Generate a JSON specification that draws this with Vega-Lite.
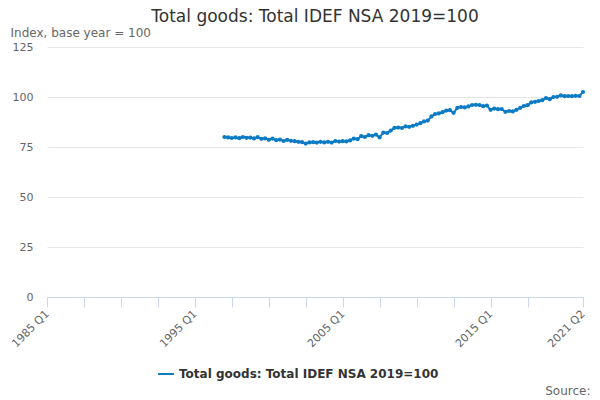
{
  "$schema": "https://vega.github.io/schema/vega-lite/v6.json",
  "width": 536,
  "height": 250,
  "autosize": "none",
  "padding": {"left": 47, "top": 47, "right": 17, "bottom": 103},
  "background": "white",
  "title": {
    "text": "Total goods: Total IDEF NSA 2019=100",
    "font": "DejaVu Sans",
    "fontSize": 17,
    "fontWeight": "normal",
    "color": "#333333",
    "anchor": "middle",
    "offset": 0
  },
  "config": {
    "view": {"stroke": null},
    "font": "DejaVu Sans"
  },
  "data": {
    "values": [
      {"date": "1997-01-01", "value": 80.0}, {"date": "1997-04-01", "value": 79.8}, {"date": "1997-07-01", "value": 79.5}, {"date": "1997-10-01", "value": 79.8},
      {"date": "1998-01-01", "value": 79.4}, {"date": "1998-04-01", "value": 80.0}, {"date": "1998-07-01", "value": 79.6}, {"date": "1998-10-01", "value": 79.7},
      {"date": "1999-01-01", "value": 79.3}, {"date": "1999-04-01", "value": 79.9}, {"date": "1999-07-01", "value": 79.1}, {"date": "1999-10-01", "value": 79.3},
      {"date": "2000-01-01", "value": 78.6}, {"date": "2000-04-01", "value": 79.2}, {"date": "2000-07-01", "value": 78.4}, {"date": "2000-10-01", "value": 78.7},
      {"date": "2001-01-01", "value": 78.0}, {"date": "2001-04-01", "value": 78.6}, {"date": "2001-07-01", "value": 78.1}, {"date": "2001-10-01", "value": 77.9},
      {"date": "2002-01-01", "value": 77.6}, {"date": "2002-04-01", "value": 77.4}, {"date": "2002-07-01", "value": 76.7}, {"date": "2002-10-01", "value": 77.3},
      {"date": "2003-01-01", "value": 77.4}, {"date": "2003-04-01", "value": 77.2}, {"date": "2003-07-01", "value": 77.6}, {"date": "2003-10-01", "value": 77.3},
      {"date": "2004-01-01", "value": 77.6}, {"date": "2004-04-01", "value": 77.2}, {"date": "2004-07-01", "value": 78.0}, {"date": "2004-10-01", "value": 77.7},
      {"date": "2005-01-01", "value": 77.9}, {"date": "2005-04-01", "value": 77.8}, {"date": "2005-07-01", "value": 78.3}, {"date": "2005-10-01", "value": 79.2},
      {"date": "2006-01-01", "value": 78.9}, {"date": "2006-04-01", "value": 80.4}, {"date": "2006-07-01", "value": 80.0}, {"date": "2006-10-01", "value": 80.9},
      {"date": "2007-01-01", "value": 80.6}, {"date": "2007-04-01", "value": 81.2}, {"date": "2007-07-01", "value": 79.8}, {"date": "2007-10-01", "value": 82.2},
      {"date": "2008-01-01", "value": 82.0}, {"date": "2008-04-01", "value": 83.2}, {"date": "2008-07-01", "value": 84.6}, {"date": "2008-10-01", "value": 84.7},
      {"date": "2009-01-01", "value": 84.5}, {"date": "2009-04-01", "value": 85.3}, {"date": "2009-07-01", "value": 85.1}, {"date": "2009-10-01", "value": 85.6},
      {"date": "2010-01-01", "value": 86.2}, {"date": "2010-04-01", "value": 86.9}, {"date": "2010-07-01", "value": 87.8}, {"date": "2010-10-01", "value": 88.2},
      {"date": "2011-01-01", "value": 90.3}, {"date": "2011-04-01", "value": 91.5}, {"date": "2011-07-01", "value": 91.8}, {"date": "2011-10-01", "value": 92.4},
      {"date": "2012-01-01", "value": 93.2}, {"date": "2012-04-01", "value": 93.4}, {"date": "2012-07-01", "value": 92.1}, {"date": "2012-10-01", "value": 94.6},
      {"date": "2013-01-01", "value": 95.0}, {"date": "2013-04-01", "value": 94.8}, {"date": "2013-07-01", "value": 95.3}, {"date": "2013-10-01", "value": 96.0},
      {"date": "2014-01-01", "value": 96.1}, {"date": "2014-04-01", "value": 96.0}, {"date": "2014-07-01", "value": 95.4}, {"date": "2014-10-01", "value": 95.7},
      {"date": "2015-01-01", "value": 93.6}, {"date": "2015-04-01", "value": 94.2}, {"date": "2015-07-01", "value": 93.9}, {"date": "2015-10-01", "value": 94.0},
      {"date": "2016-01-01", "value": 92.6}, {"date": "2016-04-01", "value": 93.0}, {"date": "2016-07-01", "value": 92.8}, {"date": "2016-10-01", "value": 93.6},
      {"date": "2017-01-01", "value": 94.6}, {"date": "2017-04-01", "value": 95.5}, {"date": "2017-07-01", "value": 95.9}, {"date": "2017-10-01", "value": 97.3},
      {"date": "2018-01-01", "value": 97.6}, {"date": "2018-04-01", "value": 98.0}, {"date": "2018-07-01", "value": 98.4}, {"date": "2018-10-01", "value": 99.5},
      {"date": "2019-01-01", "value": 98.9}, {"date": "2019-04-01", "value": 100.0}, {"date": "2019-07-01", "value": 100.1}, {"date": "2019-10-01", "value": 100.8},
      {"date": "2020-01-01", "value": 100.4}, {"date": "2020-04-01", "value": 100.5}, {"date": "2020-07-01", "value": 100.4}, {"date": "2020-10-01", "value": 100.6},
      {"date": "2021-01-01", "value": 100.5}, {"date": "2021-04-01", "value": 102.5}
    ]
  },
  "transform": [{"calculate": "'Total goods: Total IDEF NSA 2019=100'", "as": "series"}],
  "mark": {"type": "line", "strokeWidth": 2, "point": {"filled": true, "size": 18}},
  "encoding": {
    "x": {
      "field": "date",
      "type": "temporal",
      "scale": {"type": "utc", "domain": [{"year": 1985, "month": 1, "date": 1, "utc": true}, {"year": 2021, "month": 4, "date": 1, "utc": true}]},
      "axis": {
        "title": "Source:",
        "titleFont": "DejaVu Sans",
        "titleFontSize": 12,
        "titleFontWeight": "normal",
        "titleColor": "#666666",
        "titleAlign": "right",
        "titleAnchor": "end",
        "titleX": 543,
        "titleY": 97,
        "titleBaseline": "alphabetic",
        "values": [
          {"year": 1985, "month": 1, "date": 1, "utc": true},
          {"year": 1987, "month": 7, "date": 1, "utc": true},
          {"year": 1990, "month": 1, "date": 1, "utc": true},
          {"year": 1992, "month": 7, "date": 1, "utc": true},
          {"year": 1995, "month": 1, "date": 1, "utc": true},
          {"year": 1997, "month": 7, "date": 1, "utc": true},
          {"year": 2000, "month": 1, "date": 1, "utc": true},
          {"year": 2002, "month": 7, "date": 1, "utc": true},
          {"year": 2005, "month": 1, "date": 1, "utc": true},
          {"year": 2007, "month": 7, "date": 1, "utc": true},
          {"year": 2010, "month": 1, "date": 1, "utc": true},
          {"year": 2012, "month": 7, "date": 1, "utc": true},
          {"year": 2015, "month": 1, "date": 1, "utc": true},
          {"year": 2017, "month": 7, "date": 1, "utc": true},
          {"year": 2021, "month": 4, "date": 1, "utc": true}
        ],
        "labelExpr": "(utcmonth(datum.value) == 0 && utcyear(datum.value) % 10 == 5) ? utcFormat(datum.value, '%Y') + ' Q1' : (utcyear(datum.value) == 2021 ? '2021 Q2' : '')",
        "labelAngle": -45,
        "labelAlign": "right",
        "labelBaseline": "middle",
        "labelFontSize": 11,
        "labelColor": "#666666",
        "labelPadding": 5,
        "labelOverlap": false,
        "labelBound": false,
        "labelFlush": false,
        "grid": false,
        "domainColor": "#ccd6eb",
        "tickColor": "#ccd6eb",
        "tickSize": 10,
        "domainWidth": 1
      }
    },
    "y": {
      "field": "value",
      "type": "quantitative",
      "scale": {"domain": [0, 125]},
      "axis": {
        "title": "Index, base year = 100",
        "titleFont": "DejaVu Sans",
        "titleFontSize": 12,
        "titleFontWeight": "normal",
        "titleColor": "#666666",
        "titleAngle": 0,
        "titleAlign": "left",
        "titleBaseline": "alphabetic",
        "titleX": -37,
        "titleY": -11,
        "values": [0, 25, 50, 75, 100, 125],
        "labelFontSize": 11,
        "labelColor": "#666666",
        "labelPadding": 14,
        "ticks": false,
        "domain": false,
        "grid": true,
        "gridColor": "#e6e6e6"
      }
    },
    "color": {
      "field": "series",
      "type": "nominal",
      "scale": {"range": ["#0a7bc4"]},
      "legend": {
        "title": null,
        "orient": "none",
        "legendX": 110,
        "legendY": 318,
        "direction": "horizontal",
        "symbolType": "stroke",
        "symbolStrokeWidth": 2,
        "symbolSize": 250,
        "labelFontSize": 12,
        "labelFontWeight": "bold",
        "labelColor": "#333333",
        "labelLimit": 400
      }
    }
  }
}
